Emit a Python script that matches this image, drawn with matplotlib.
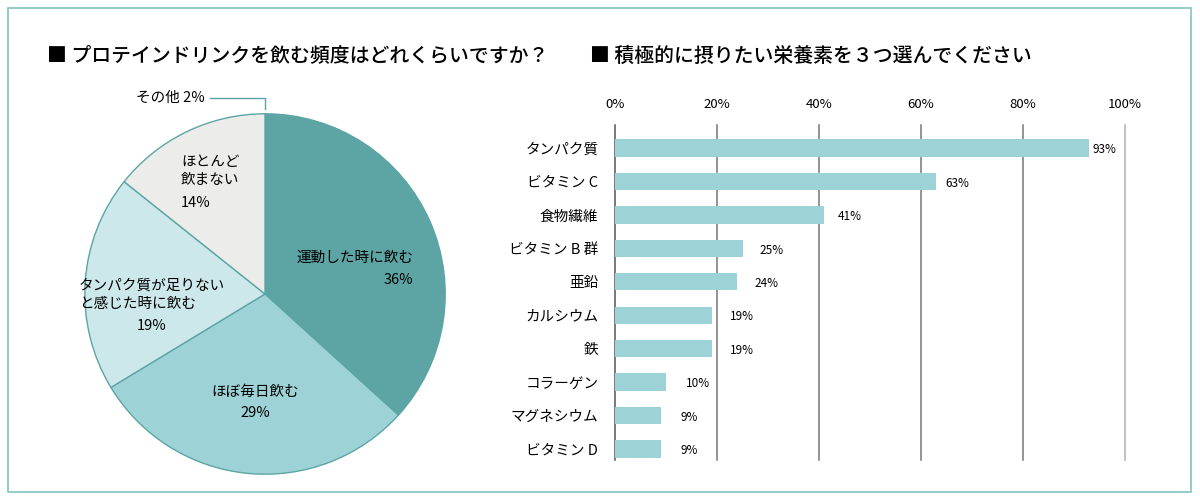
import matplotlib.pyplot as plt
from matplotlib.patches import Rectangle
from matplotlib.lines import Line2D

plt.rcParams['font.family'] = ['Noto Sans CJK JP', 'DejaVu Sans']

# --- data ---
pie_labels = ['運動した時に飲む', 'ほぼ毎日飲む', 'タンパク質が足りない\nと感じた時に飲む', 'ほとんど\n飲まない']
pie_values = [36, 29, 19, 14]
other_label = 'その他'
other_value = 2

bar_labels = ['タンパク質', 'ビタミン C', '食物繊維', 'ビタミン B 群', '亜鉛',
              'カルシウム', '鉄', 'コラーゲン', 'マグネシウム', 'ビタミン D']
bar_values = [93, 63, 41, 25, 24, 19, 19, 10, 9, 9]
x_ticks = [0, 20, 40, 60, 80, 100]

title_left = '■ プロテインドリンクを飲む頻度はどれくらいですか？'
title_right = '■ 積極的に摂りたい栄養素を３つ選んでください'

pie_colors = ['#5ca5a4', '#9dd3d6', '#cde8ea', '#ececeb']
teal = '#5ca5a4'
bar_color = '#9dd3d6'

W, H = 1200, 500
fig = plt.figure(figsize=(12, 5), dpi=100)

# outer frame
fig.add_artist(Rectangle((8 / W, 8 / H), 1183 / W, 484 / H, transform=fig.transFigure,
                         fill=False, edgecolor='#8cc7c7', linewidth=1.3))

fig.text(47 / W, 1 - 56 / H, title_left, fontsize=14.3, fontweight='medium', va='center', ha='left')
fig.text(590 / W, 1 - 56 / H, title_right, fontsize=14.3, fontweight='medium', va='center', ha='left')

# --- pie ---
cx, cy, r = 265, 294, 182
pax = fig.add_axes([(cx - r) / W, 1 - (cy + r) / H, 2 * r / W, 2 * r / H])
pax.pie(pie_values, colors=pie_colors, startangle=90, counterclock=False, radius=1,
        wedgeprops=dict(edgecolor=teal, linewidth=1))
pax.set_xlim(-1.01, 1.01)
pax.set_ylim(-1.01, 1.01)
pax.set_aspect('equal')
pax.axis('off')


def px(x, y):
    # figure pixel -> pie data coords
    return (x - cx) / r * 1.01, (cy - y) / r * 1.01


fs = 10.5
pax.text(*px(355, 258), pie_labels[0], fontsize=fs, ha='center', va='center')
pax.text(*px(398, 280), f'{pie_values[0]}%', fontsize=fs, ha='center', va='center')
pax.text(*px(255, 392), pie_labels[1], fontsize=fs, ha='center', va='center')
pax.text(*px(255, 413), f'{pie_values[1]}%', fontsize=fs, ha='center', va='center')
pax.text(*px(79, 295), pie_labels[2], fontsize=fs, ha='left', va='center', linespacing=1.45)
pax.text(*px(152, 326), f'{pie_values[2]}%', fontsize=fs, ha='center', va='center')
pax.text(*px(181, 171), pie_labels[3], fontsize=fs, ha='left', va='center', linespacing=1.45)
pax.text(*px(181, 203), f'{pie_values[3]}%', fontsize=fs, ha='left', va='center')

# callout for その他
fig.text(205 / W, 1 - 98 / H, f'{other_label} {other_value}%', fontsize=fs, ha='right', va='center')
fig.add_artist(Line2D([210 / W, 265 / W, 265 / W], [1 - 98 / H, 1 - 98 / H, 1 - 109 / H],
                      transform=fig.transFigure, color=teal, linewidth=1))

# --- bars ---
top, bottom = 125, 460
bax = fig.add_axes([615 / W, 1 - bottom / H, 510 / W, (bottom - top) / H])
ypos = list(range(len(bar_values)))
bax.barh(ypos, bar_values, height=0.52, color=bar_color, zorder=2)
bax.set_xlim(0, 100)
bax.set_ylim(len(bar_values) - 1 + 0.33, -0.69)
for t in x_ticks:
    c = '#555555' if t == 0 else ('#b0b0b0' if t == 100 else '#777777')
    bax.axvline(t, color=c, linewidth=1.1, zorder=1, clip_on=False)
for s in bax.spines.values():
    s.set_visible(False)
bax.xaxis.tick_top()
bax.set_xticks(x_ticks)
bax.set_xticklabels([f'{t}%' for t in x_ticks], fontsize=9.5)
bax.tick_params(axis='x', length=0, pad=10)
bax.set_yticks(ypos)
bax.set_yticklabels(bar_labels, fontsize=10.5)
bax.tick_params(axis='y', length=0, pad=12)
for y, v in zip(ypos, bar_values):
    bax.text(4.3 + 0.96 * v, y + 0.05, f'{v}%', fontsize=8.5, ha='left', va='center')

fig.savefig('out.png', dpi=100)
